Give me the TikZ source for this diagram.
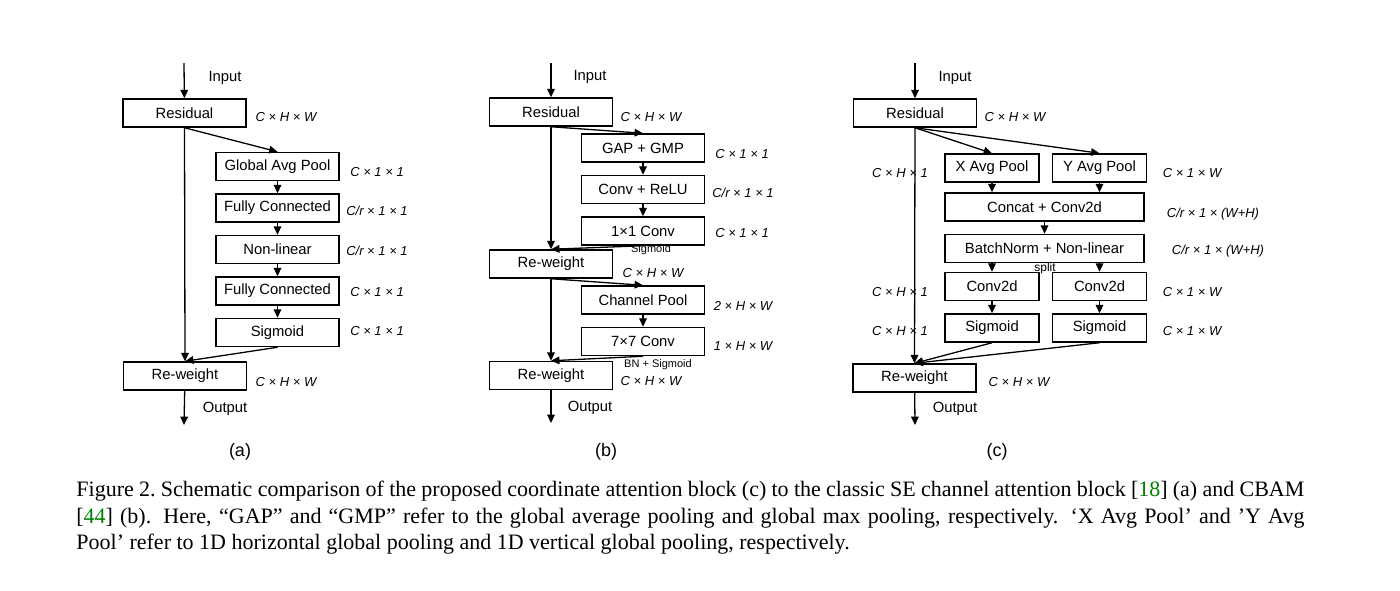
\documentclass[tikz,border=0pt]{standalone}
\usepackage{fontspec}
\setmainfont{Liberation Sans}
\newfontfamily\capfont{Liberation Serif}
\usepackage{xcolor}
\usetikzlibrary{arrows.meta,positioning,calc}
\definecolor{citegreen}{rgb}{0.0,0.5,0.0}
\tikzset{
  >={Triangle[length=4.2pt,width=3.8pt]},
  block/.style={draw, line width=0.75pt, minimum width=61.5pt, minimum height=14pt, inner sep=1pt, font=\fontsize{7.4}{8}\selectfont},
  half/.style={block, minimum width=47pt},
  wide/.style={block, minimum width=99.5pt},
  dimtxt/.style={font=\fontsize{6.5}{7}\selectfont\itshape, inner sep=0pt},
  note/.style={font=\fontsize{5.5}{6}\selectfont, inner sep=0pt},
  io/.style={font=\fontsize{7.4}{8}\selectfont, inner sep=0pt},
  tag/.style={font=\fontsize{9}{10}\selectfont, inner sep=0pt},
  link/.style={->, line width=0.65pt},
  captext/.style={text width=614pt, align=justify, inner sep=0pt, font=\capfont\fontsize{11}{13.25}\selectfont},
}

\begin{document}
\begin{tikzpicture}[x=0.5pt, y=-0.5pt]
  \useasboundingbox (0,0) rectangle (1400,590);

  % (a) SE block
  \coordinate (inA) at (184,63);
  \node[block] (resA) at (184.5,113) {Residual};
  \node[block] (gapA) at (277.5,166.5) {Global Avg Pool};
  \node[block, below=6pt of gapA] (fc1A) {Fully Connected};
  \node[block, below=6pt of fc1A] (nlA) {Non-linear};
  \node[block, below=6pt of nlA] (fc2A) {Fully Connected};
  \node[block, below=6pt of fc2A] (sgA) {Sigmoid};
  \node[block] (rwA) at (185,376) {Re-weight};
  \coordinate (outA) at (184,425);
  \node[io] (inTA) at (225,78) {Input};
  \node[io] (outTA) at (225,409) {Output};
  \node[dimtxt] (dA0) at (286,117) {C × H × W};
  \node[dimtxt] (dA1) at (377,172) {C × 1 × 1};
  \node[dimtxt] (dA2) at (377,211) {C/r × 1 × 1};
  \node[dimtxt] (dA3) at (377,251) {C/r × 1 × 1};
  \node[dimtxt] (dA4) at (377,292) {C × 1 × 1};
  \node[dimtxt] (dA5) at (377,331) {C × 1 × 1};
  \node[dimtxt] (dA6) at (286,382) {C × H × W};
  \node[tag] (tagA) at (240,452) {(a)};
  \draw[link] (inA) -- (resA);
  \draw[link] (resA.south) -- (gapA.north);
  \draw[link] (gapA) -- (fc1A);
  \draw[link] (fc1A) -- (nlA);
  \draw[link] (nlA) -- (fc2A);
  \draw[link] (fc2A) -- (sgA);
  \draw[link] (sgA.south) -- (rwA.north);
  \draw[link] (resA.south) -- (rwA.north);
  \draw[link] (rwA) -- (outA);

  % (b) CBAM
  \coordinate (inB) at (551,63);
  \node[block] (resB) at (551,112) {Residual};
  \node[block] (gpB) at (643,148) {GAP + GMP};
  \node[block, below=6pt of gpB] (crB) {Conv + ReLU};
  \node[block, below=6pt of crB] (cvB) {1×1 Conv};
  \node[block] (rw1B) at (551,264) {Re-weight};
  \node[block] (cpB) at (643,300) {Channel Pool};
  \node[block, below=6pt of cpB] (c7B) {7×7 Conv};
  \node[block] (rw2B) at (551,375.5) {Re-weight};
  \coordinate (outB) at (551,423);
  \node[io] (inTB) at (590,77) {Input};
  \node[io] (outTB) at (590,408) {Output};
  \node[dimtxt] (dB0) at (651,117) {C × H × W};
  \node[dimtxt] (dB1) at (742,154) {C × 1 × 1};
  \node[dimtxt] (dB2) at (743,193) {C/r × 1 × 1};
  \node[dimtxt] (dB3) at (742,233) {C × 1 × 1};
  \node[note] (sgTB) at (651,250) {Sigmoid};
  \node[dimtxt] (dB4) at (653,273) {C × H × W};
  \node[dimtxt] (dB5) at (743,306) {2 × H × W};
  \node[dimtxt] (dB6) at (743,346) {1 × H × W};
  \node[note] (bnTB) at (658,365) {BN + Sigmoid};
  \node[dimtxt] (dB7) at (651,381) {C × H × W};
  \node[tag] (tagB) at (606,452) {(b)};
  \draw[link] (inB) -- (resB);
  \draw[link] (resB.south) -- (gpB.north);
  \draw[link] (gpB) -- (crB);
  \draw[link] (crB) -- (cvB);
  \draw[link] (cvB.south) -- (rw1B.north);
  \draw[link] (resB.south) -- (rw1B.north);
  \draw[link] (rw1B.south) -- (cpB.north);
  \draw[link] (cpB) -- (c7B);
  \draw[link] (c7B.south) -- (rw2B.north);
  \draw[link] (rw1B.south) -- (rw2B.north);
  \draw[link] (rw2B) -- (outB);

  % (c) coordinate attention
  \coordinate (inC) at (915,63);
  \node[block] (resC) at (915,113) {Residual};
  \node[half] (xpC) at (992,168) {X Avg Pool};
  \node[half, right=6pt of xpC] (ypC) {Y Avg Pool};
  \node[wide] (ccC) at (1044.5,207) {Concat + Conv2d};
  \node[wide, below=6pt of ccC] (bnC) {BatchNorm + Non-linear};
  \node[half] (cvXC) at (992,286.5) {Conv2d};
  \node[half, right=6pt of cvXC] (cvYC) {Conv2d};
  \node[half, below=6pt of cvXC] (sgXC) {Sigmoid};
  \node[half, right=6pt of sgXC] (sgYC) {Sigmoid};
  \node[block] (rwC) at (914.5,378) {Re-weight};
  \coordinate (outC) at (915,425);
  \node[io] (inTC) at (955,78) {Input};
  \node[io] (outTC) at (955,409) {Output};
  \node[dimtxt] (dC0) at (1015,117) {C × H × W};
  \node[dimtxt] (dC1) at (900,173) {C × H × 1};
  \node[dimtxt] (dC2) at (1192,173) {C × 1 × W};
  \node[dimtxt] (dC3) at (1213,214) {C/r × 1 × (W+H)};
  \node[dimtxt] (dC4) at (1218,251) {C/r × 1 × (W+H)};
  \node[note, font=\fontsize{6}{7}\selectfont] (spC) at (1045,268) {split};
  \node[dimtxt] (dC5) at (900,292) {C × H × 1};
  \node[dimtxt] (dC6) at (1192,292) {C × 1 × W};
  \node[dimtxt] (dC7) at (900,331) {C × H × 1};
  \node[dimtxt] (dC8) at (1192,331) {C × 1 × W};
  \node[dimtxt] (dC9) at (1019,382) {C × H × W};
  \node[tag] (tagC) at (997,452) {(c)};
  \draw[link] (inC) -- (resC);
  \draw[link] (resC.south) -- (xpC.north);
  \draw[link] (resC.south) -- (ypC.north);
  \draw[link] (xpC.south) -- (xpC.south |- ccC.north);
  \draw[link] (ypC.south) -- (ypC.south |- ccC.north);
  \draw[link] (ccC) -- (bnC);
  \draw[link] (bnC.south -| cvXC.north) -- (cvXC.north);
  \draw[link] (bnC.south -| cvYC.north) -- (cvYC.north);
  \draw[link] (cvXC) -- (sgXC);
  \draw[link] (cvYC) -- (sgYC);
  \draw[link] (sgXC.south) -- (rwC.north);
  \draw[link] (sgYC.south) -- (rwC.north);
  \draw[link] (resC.south) -- (rwC.north);
  \draw[link] (rwC) -- (outC);

  % caption
  \node[captext, anchor=north west] (capt) at (76,481) {Figure 2.\ Schematic comparison of the proposed coordinate attention block (c) to the classic SE channel attention block [\textcolor{citegreen}{18}] (a) and CBAM [\textcolor{citegreen}{44}] (b). Here, “GAP” and “GMP” refer to the global average pooling and global max pooling, respectively. ‘X Avg Pool’ and ’Y Avg\linebreak Pool’ refer to 1D horizontal global pooling and 1D vertical global pooling, respectively.};
\end{tikzpicture}
\end{document}
